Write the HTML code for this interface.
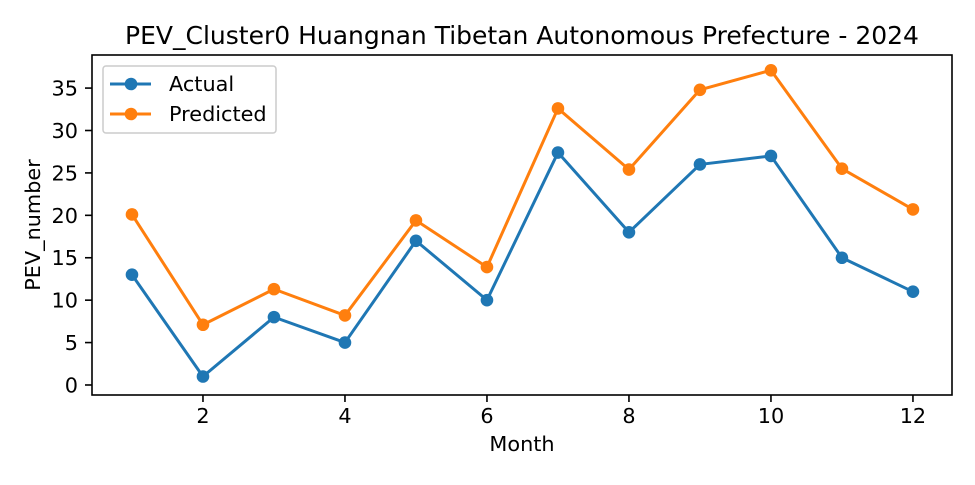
<!DOCTYPE html>
<html><head><meta charset="utf-8"><style>
body{margin:0;background:#fff;}
svg{font-family:"DejaVu Sans","Liberation Sans",sans-serif;}
</style></head><body>
<svg id="chart" width="975" height="480" viewBox="0 0 975 480"></svg>
<script>
const months=[1,2,3,4,5,6,7,8,9,10,11,12];
const actual=[13,1,8,5,17,10,27.4,18,26,27,15,11];
const predicted=[20.1,7.1,11.3,8.2,19.4,13.9,32.6,25.4,34.8,37.1,25.5,20.7];
const xTicks=[2,4,6,8,10,12];
const yTicks=[0,5,10,15,20,25,30,35];
const L=92,R=952,T=55,B=395;
const xmin=0.437,xmax=12.55,ymin=-1.18,ymax=38.9;
const X=v=>L+(v-xmin)/(xmax-xmin)*(R-L);
const Y=v=>B-(v-ymin)/(ymax-ymin)*(B-T);
const svg=document.getElementById('chart');
const NS='http://www.w3.org/2000/svg';
function mk(tag,attrs,parent){const e=document.createElementNS(NS,tag);for(const k in attrs)e.setAttribute(k,attrs[k]);(parent||svg).appendChild(e);return e;}
function txt(s,attrs){const e=mk('text',attrs);e.textContent=s;return e;}
xTicks.forEach(v=>{
  const l=mk('line',{x1:X(v),x2:X(v),y1:B,y2:B+7,stroke:'#000','stroke-width':1.6});
  
  
  const t=txt(v,{x:X(v),y:423,'text-anchor':'middle','font-size':'20.8'});
  
  
});
yTicks.forEach(v=>{
  const l=mk('line',{x1:L-7,x2:L,y1:Y(v),y2:Y(v),stroke:'#000','stroke-width':1.6});
  
  
  const t=txt(v,{x:L-14,y:Y(v)+7.5,'text-anchor':'end','font-size':'20.8'});
  
  
});
function series(vals,color,name){
  const g=mk('g',{});
  
  
  const p=mk('polyline',{points:vals.map((v,i)=>X(months[i])+','+Y(v)).join(' '),fill:'none',stroke:color,'stroke-width':3,'stroke-linejoin':'round'},g);
  
  
  vals.forEach((v,i)=>{
    const c=mk('circle',{cx:X(months[i]),cy:Y(v),r:6.3,fill:color},g);
    
    
  });
}
series(actual,'#1f77b4','actual');
series(predicted,'#ff7f0e','predicted');
const frame=mk('rect',{x:L,y:T,width:R-L,height:B-T,fill:'none',stroke:'#000','stroke-width':1.6});


const title=txt('PEV_Cluster0 Huangnan Tibetan Autonomous Prefecture - 2024',{x:(L+R)/2,y:44,'text-anchor':'middle','font-size':'25'});


const xl=txt('Month',{x:(L+R)/2,y:451,'text-anchor':'middle','font-size':'20.8'});


const yl=txt('PEV_number',{x:0,y:0,'text-anchor':'middle','font-size':'20.8',transform:'translate(40,'+((T+B)/2)+') rotate(-90)'});


const lg=mk('g',{});


mk('rect',{x:103,y:66,width:173,height:67,rx:3,fill:'#fff','fill-opacity':0.8,stroke:'#ccc','stroke-width':1.5},lg);
[['Actual','#1f77b4',84],['Predicted','#ff7f0e',114]].forEach(([n,c,y])=>{
  const e=mk('g',{},lg);
  
  
  mk('line',{x1:110,x2:151,y1:y,y2:y,stroke:c,'stroke-width':3},e);
  mk('circle',{cx:131,cy:y,r:6.3,fill:c},e);
  const t=mk('text',{x:169,y:y+7,'font-size':'20.8'},e);t.textContent=n;
});
</script>
</body></html>
